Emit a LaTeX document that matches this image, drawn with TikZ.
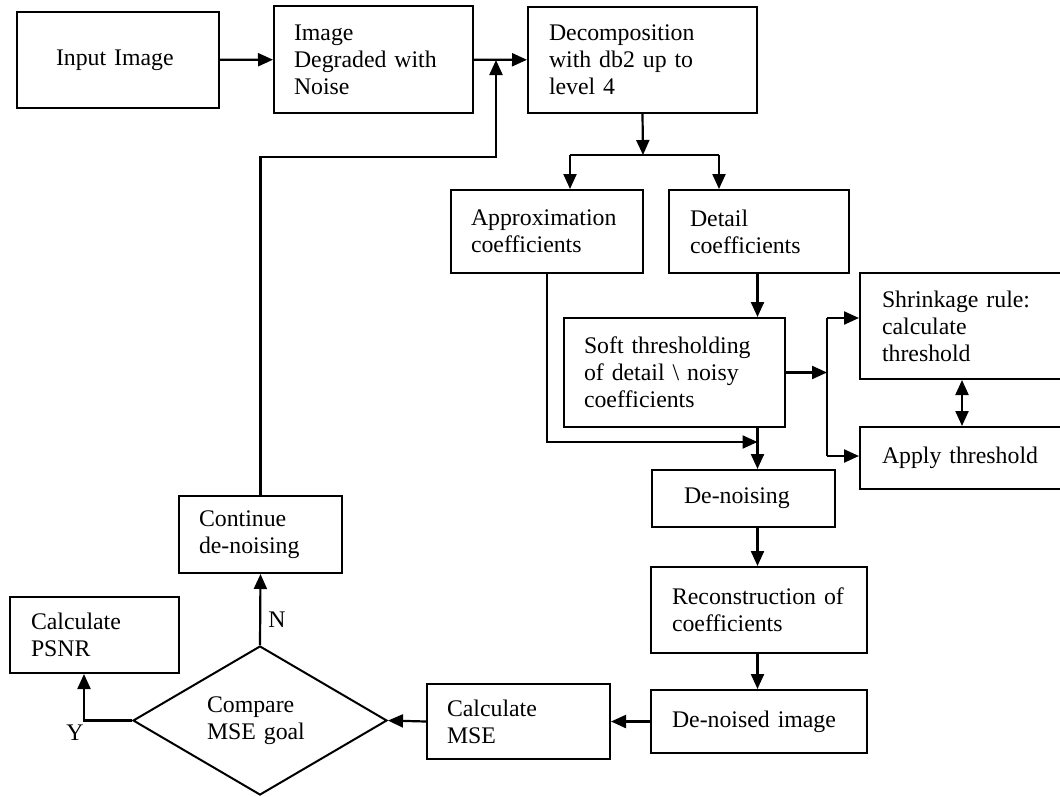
\documentclass[tikz,border=0pt]{standalone}
\usepackage{fontspec}
\setmainfont{Liberation Serif}
\usetikzlibrary{arrows.meta,shapes.geometric}
\tikzset{
  txt/.style={font=\fontsize{23.8}{27}\selectfont},
  bx/.style={txt, draw, line width=2pt, rectangle, inner xsep=20pt, inner ysep=0pt, align=left},
  tip/.tip={Triangle[length=15pt,width=13pt]},
  arr/.style={line width=2.2pt, -tip},
  arrtwo/.style={line width=2.2pt, tip-tip},
  ln/.style={line width=2.2pt},
  lbl/.style={txt, inner sep=0pt}
}
\begin{document}
\begin{tikzpicture}[x=1pt,y=-1pt]
\useasboundingbox (0,0) rectangle (1060,796);
% boxes
\node[bx, inner xsep=39pt, text width=124pt, minimum height=96pt] (inp) at (118,60) {Input~Image};
\node[bx, text width=159pt, minimum height=107pt] (deg) at (373.5,59.5) {Image\\Degraded~with\\Noise};
\node[bx, inner xsep=21pt, text width=187pt, minimum height=106pt] (dec) at (642.5,60) {Decomposition\\with db2 up to\\level 4};
\node[bx, text width=152pt, minimum height=83pt] (app) at (547,231.5) {Approximation\\coefficients};
\node[bx, inner xsep=21pt, text width=138pt, minimum height=83pt] (det) at (759,231.5) {Detail\\coefficients};
\node[bx, text width=181pt, minimum height=109pt] (soft) at (674.5,372.5) {Soft~thresholding\\of~detail~\textbackslash{}~noisy\\coefficients};
\node[bx, inner xsep=22pt, text width=161pt, minimum height=106pt] (shr) at (962.5,326) {Shrinkage~rule:\\calculate\\threshold};
\node[bx, inner xsep=22pt, text width=161pt, minimum height=62pt] (apl) at (962.5,458) {Apply~threshold};
\node[bx, inner xsep=32pt, text width=119pt, minimum height=57pt] (den) at (743.5,498.5) {De-noising};
\node[bx, inner xsep=21pt, text width=174pt, minimum height=86pt] (rec) at (759,610) {Reconstruction~of\\coefficients};
\node[bx, inner xsep=21pt, text width=174pt, minimum height=63pt] (dimg) at (759,721.5) {De-noised~image};
\node[bx, text width=143pt, minimum height=75pt] (mse) at (518.5,721.5) {Calculate\\MSE};
\node[txt, draw, diamond, shape aspect=1.7, line width=2pt, minimum width=254pt, minimum height=149pt,
  inner sep=0pt, text width=106pt, align=left] (cmp) at (260,720.5) {Compare\\MSE~goal};
\node[bx, text width=123pt, minimum height=77pt] (cont) at (260.5,534.5) {Continue\\de-noising};
\node[bx, inner xsep=21pt, text width=127pt, minimum height=76pt] (psnr) at (94.5,635) {Calculate\\PSNR};
% helper coordinates
\coordinate (fb1) at (496,157);
\coordinate (fb) at (496,60);
\coordinate (split) at (643,155);
\coordinate (sl) at (570,155);
\coordinate (sr) at (719,155);
\coordinate (mj) at (757.5,442);
\coordinate (bj) at (827,372.5);
\coordinate (bt) at (827,318);
\coordinate (bb) at (827,456);
\coordinate (dx) at (962,400);
\coordinate (yc) at (84,720.5);
% connectors
\draw[arr] (inp) -- (deg);
\draw[arr] (deg) -- (dec);
\draw[arr] (cont.north) |- (fb1) -- (fb);
\draw[arr] (dec.south) -- (split);
\draw[ln] (sl) -- (sr);
\draw[arr] (sl) -- (sl |- app.north);
\draw[arr] (sr) -- (sr |- det.north);
\draw[arr] (mj |- det.south) -- (mj |- soft.north);
\draw[arr] (app.south) |- (mj);
\draw[arr] (mj |- soft.south) -- (mj |- den.north);
\draw[arr] (soft.east) -- (bj);
\draw[ln] (bt) -- (bb);
\draw[arr] (bt) -- (bt -| shr.west);
\draw[arr] (bb) -- (bb -| apl.west);
\draw[arrtwo] (dx |- shr.south) -- (dx |- apl.north);
\draw[arr] (mj |- den.south) -- (mj |- rec.north);
\draw[arr] (mj |- rec.south) -- (mj |- dimg.north);
\draw[arr] (dimg) -- (mse);
\draw[arr] (mse.west) -- (cmp.east);
\draw[arr] (cmp.north) -- (cont.south) node[lbl, pos=0.35, right=7pt] (nlab) {N};
\draw[arr] (cmp.west) -- (yc) -- (yc |- psnr.south);
\node[lbl] (ylab) at (75,733) {Y};
\end{tikzpicture}
\end{document}
